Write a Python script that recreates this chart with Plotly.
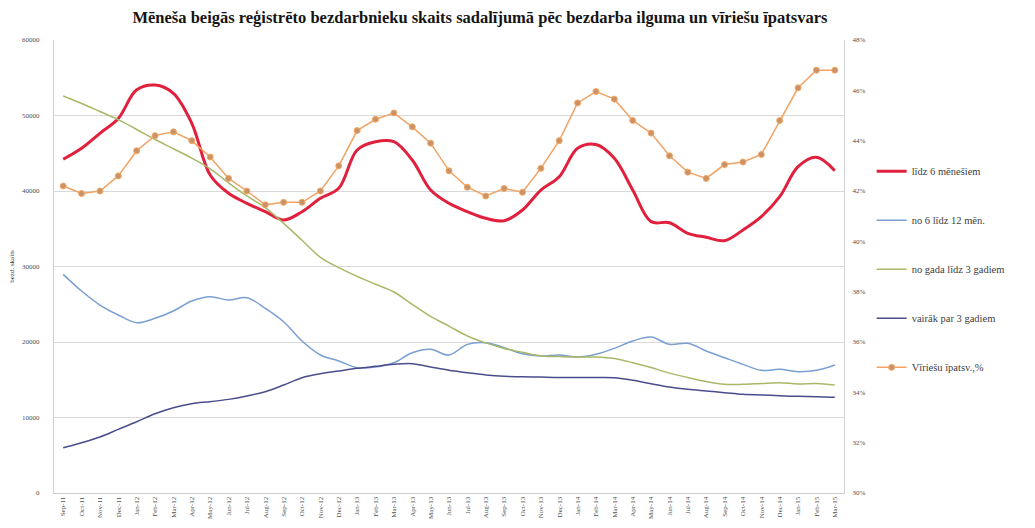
import plotly.graph_objects as go

# months Sep-11 .. Mar-15
months = ['Sep-11', 'Oct-11', 'Nov-11', 'Dec-11',
          'Jan-12', 'Feb-12', 'Mar-12', 'Apr-12', 'May-12', 'Jun-12', 'Jul-12', 'Aug-12', 'Sep-12', 'Oct-12', 'Nov-12', 'Dec-12',
          'Jan-13', 'Feb-13', 'Mar-13', 'Apr-13', 'May-13', 'Jun-13', 'Jul-13', 'Aug-13', 'Sep-13', 'Oct-13', 'Nov-13', 'Dec-13',
          'Jan-14', 'Feb-14', 'Mar-14', 'Apr-14', 'May-14', 'Jun-14', 'Jul-14', 'Aug-14', 'Sep-14', 'Oct-14', 'Nov-14', 'Dec-14',
          'Jan-15', 'Feb-15', 'Mar-15']

lidz_6 = [44200, 45650, 47640, 49600, 53400, 54040, 52940, 48970, 42120, 39700, 38370,
          37260, 36160, 37260, 39030, 40360, 45430, 46530, 46530, 44100, 40130, 38370,
          37260, 36380, 36070, 37480, 40130, 41890, 45650, 46150, 44330, 40130, 35940,
          35800, 34400, 33870, 33420, 34830, 36600, 39250, 43220, 44460, 42690]

no_6_12 = [28960, 26750, 24900, 23580, 22560, 23140, 24110, 25430, 26000, 25560, 25870,
           24460, 22690, 20130, 18280, 17480, 16600, 16690, 17260, 18580, 19030, 18280,
           19690, 19910, 19250, 18450, 18150, 18280, 18010, 18370, 19160, 20130, 20660,
           19690, 19820, 18810, 17920, 17040, 16250, 16380, 16070, 16250, 16950]

gads_3 = [52580, 51590, 50530, 49460, 48150, 46820, 45600, 44350, 42940, 41090, 39340,
          37800, 35710, 33470, 31220, 29860, 28700, 27650, 26620, 24990, 23400, 22100,
          20800, 19880, 19150, 18630, 18150, 18070, 18010, 18010, 17800, 17260, 16610,
          15880, 15300, 14760, 14390, 14390, 14500, 14600, 14450, 14500, 14300]

virs_3 = [6000, 6660, 7420, 8430, 9440, 10500, 11300, 11830, 12100, 12400, 12850,
          13420, 14300, 15270, 15800, 16160, 16510, 16780, 17040, 17130, 16690, 16250,
          15930, 15630, 15450, 15400, 15350, 15300, 15300, 15300, 15270, 14930, 14480,
          14040, 13730, 13510, 13290, 13070, 12980, 12890, 12800, 12760, 12670]

viriesu = [42.2, 41.9, 42.0, 42.6, 43.6, 44.2, 44.35, 44.0, 43.35, 42.5, 42.0,
           41.45, 41.55, 41.55, 42.0, 43.0, 44.4, 44.85, 45.1, 44.55, 43.9, 42.8,
           42.15, 41.8, 42.1, 41.95, 42.9, 44.0, 45.5, 45.95, 45.65, 44.8, 44.3,
           43.4, 42.75, 42.5, 43.05, 43.15, 43.45, 44.8, 46.1, 46.8, 46.8]

font = 'Liberation Serif, Times New Roman, serif'

fig = go.Figure()
fig.add_trace(go.Scatter(x=months, y=lidz_6, name='līdz 6 mēnešiem', mode='lines',
                         line=dict(color='#e0203c', width=3, shape='spline'), legendgroup='a'))
fig.add_trace(go.Scatter(x=months, y=no_6_12, name='no 6 līdz 12 mēn.', mode='lines',
                         line=dict(color='#7a9fd2', width=1.5, shape='spline'), legendgroup='b'))
fig.add_trace(go.Scatter(x=months, y=gads_3, name='no gada līdz 3 gadiem', mode='lines',
                         line=dict(color='#a8b868', width=1.5, shape='spline'), legendgroup='c'))
fig.add_trace(go.Scatter(x=months, y=virs_3, name='vairāk par 3 gadiem', mode='lines',
                         line=dict(color='#4a4d8c', width=1.5, shape='spline'), legendgroup='d'))
fig.add_trace(go.Scatter(x=months, y=[v / 100 for v in viriesu], name='Vīriešu īpatsv.,%',
                         mode='lines+markers', yaxis='y2',
                         line=dict(color='#f2a262', width=1.5),
                         marker=dict(color='#c99268', size=6, line=dict(color='#f5a862', width=1)),
                         legendgroup='e'))

fig.update_layout(
    width=1035, height=528,
    paper_bgcolor='white', plot_bgcolor='white',
    margin=dict(l=46, r=199, t=32, b=43),
    font=dict(family=font, color='#404040'),
    title=dict(text='Mēneša beigās reģistrēto bezdarbnieku skaits sadalījumā pēc bezdarba ilguma un vīriešu īpatsvars',
               font=dict(family=font, size=16.5, color='#151515', weight='bold'),
               x=0.456, xanchor='center', y=0.983, yanchor='middle'),
    xaxis=dict(type='category', range=[-0.5, 42.5], tickangle=-90, automargin=False,
               tickfont=dict(size=7, color='#505050'), showgrid=False,
               showline=True, linecolor='#d0d0d0', ticks=''),
    yaxis=dict(range=[0, 60000], dtick=10000, tickformat='d', automargin=False,
               tickfont=dict(size=7, color='#505050'),
               gridcolor='#d9d9d9', showline=True, linecolor='#d0d0d0',
               zeroline=False, ticklabelstandoff=12,
               title=dict(text='bezd. skaits', font=dict(size=7, color='#404040'), standoff=14)),
    yaxis2=dict(range=[0.30, 0.48], dtick=0.02, tickformat='.0%', overlaying='y', side='right',
                automargin=False, tickfont=dict(size=7, color='#505050'), showgrid=False,
                showline=True, linecolor='#d0d0d0', zeroline=False, ticklabelstandoff=6),
    legend=dict(x=1.035, y=0.742, xanchor='left', yanchor='top', bgcolor='rgba(0,0,0,0)',
                font=dict(family=font, size=10.5, color='#404040'),
                tracegroupgap=30, itemwidth=30),
)

fig.write_html("out.html")
